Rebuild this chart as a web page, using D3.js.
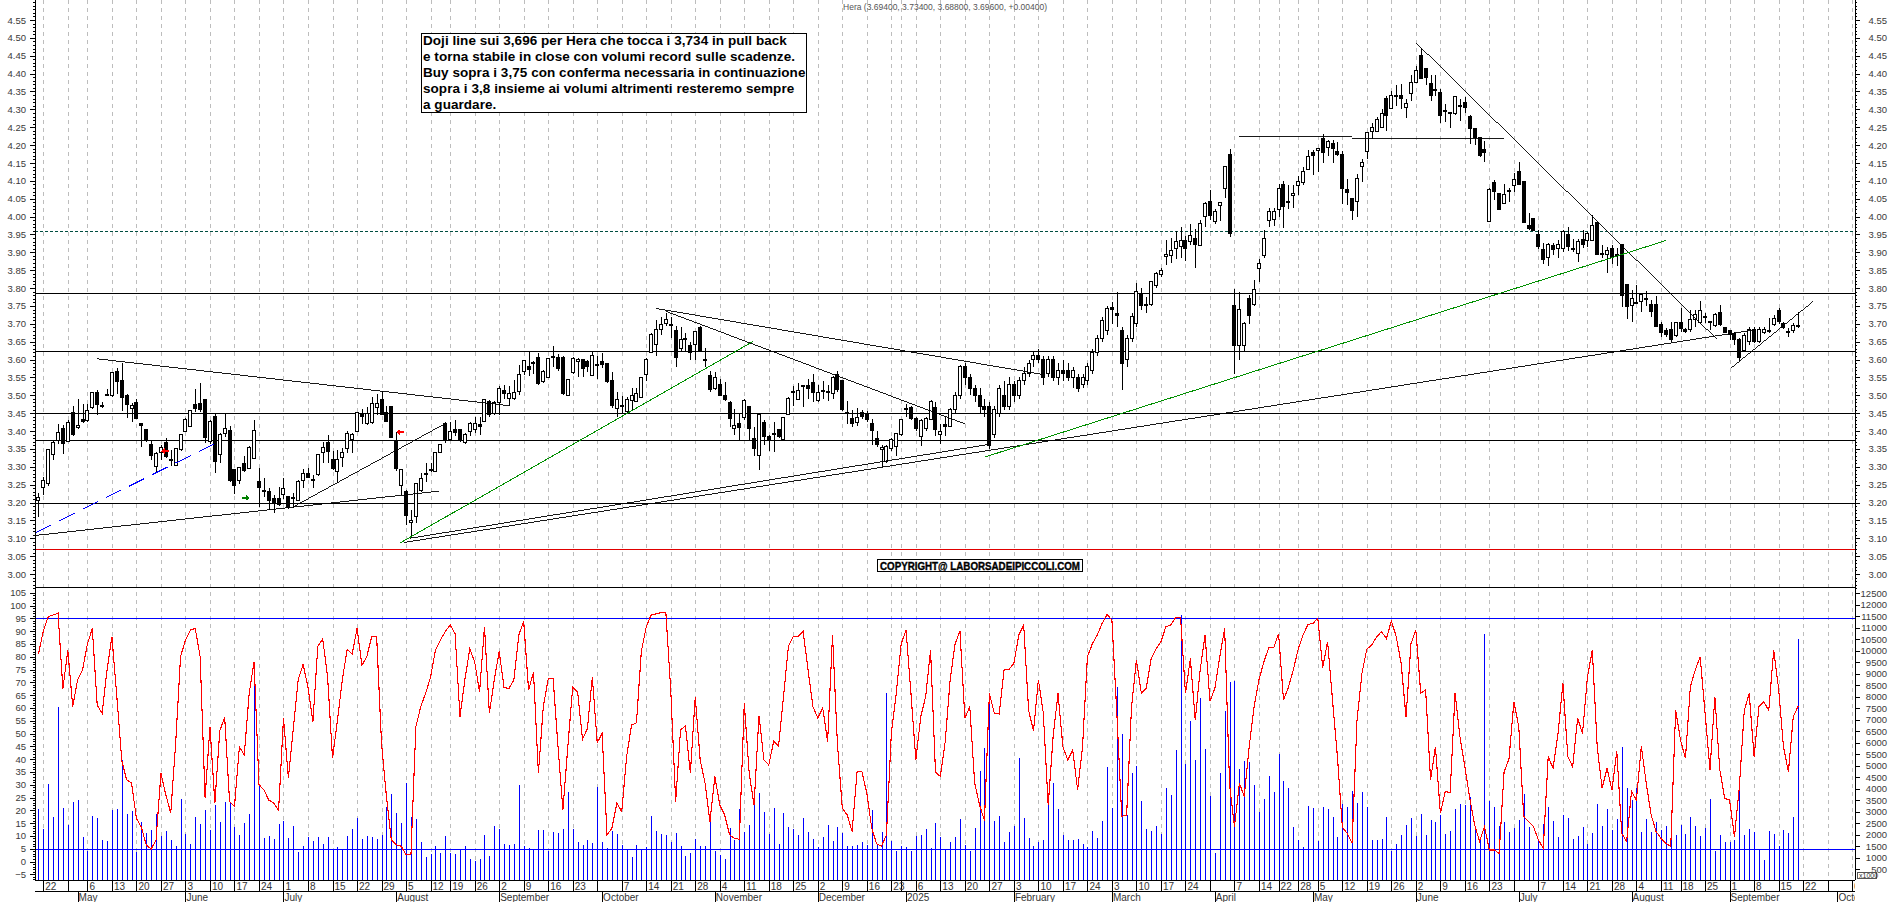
<!DOCTYPE html>
<html>
<head>
<meta charset="utf-8">
<script src="https://cdn.jsdelivr.net/npm/d3@7"></script>
<style>
	html, body { margin: 0; padding: 0; background: #fff; overflow: hidden; }
	svg { display: block; shape-rendering: crispEdges; font-family: "Liberation Sans", Arial, sans-serif; }
	.tick-label text, .tick text { font-size: 9.5px; fill: #3a3a3a; }
</style>
</head>
<body>
<div id="chart"></div>
<script>

var holidays = ["2024-05-01", "2024-08-15", "2024-12-24", "2024-12-25", "2024-12-26", "2024-12-31", "2025-01-01", "2025-04-18", "2025-04-21", "2025-05-01", "2025-08-15"];

var opens = [
	3.205,3.242,3.252,3.334,3.373,3.408,3.37,3.451,3.409,3.431,
	3.429,3.465,3.508,3.472,3.503,3.499,3.567,3.54,3.50,3.463,
	3.48,3.422,3.403,3.361,3.30,3.34,3.369,3.318,3.303,3.347,
	3.40,3.414,3.475,3.476,3.487,3.37,3.441,3.335,3.393,3.402,
	3.291,3.261,3.31,3.296,3.324,3.258,3.235,3.23,3.21,3.212,
	3.222,3.217,3.214,3.207,3.261,3.28,3.263,3.277,3.34,3.368,
	3.321,3.286,3.326,3.351,3.377,3.398,3.446,3.42,3.423,3.465,
	3.489,3.452,3.469,3.373,3.248,3.23,3.145,3.16,3.235,3.277,
	3.293,3.286,3.34,3.421,3.375,3.405,3.405,3.367,3.398,3.403,
	3.417,3.426,3.482,3.45,3.48,3.513,3.49,3.49,3.51,3.566,
	3.58,3.592,3.606,3.538,3.55,3.609,3.606,3.606,3.50,3.563,
	3.595,3.599,3.594,3.555,3.585,3.595,3.588,3.54,3.464,3.47,
	3.454,3.485,3.482,3.494,3.559,3.619,3.643,3.683,3.70,3.697,
	3.68,3.63,3.66,3.64,3.643,3.691,3.60,3.555,3.52,3.53,
	3.50,3.481,3.406,3.422,3.438,3.47,3.38,3.331,3.424,3.384,
	3.394,3.403,3.377,3.447,3.51,3.489,3.528,3.528,3.536,3.485,
	3.514,3.508,3.505,3.558,3.54,3.453,3.434,3.423,3.452,3.447,
	3.422,3.38,3.349,3.314,3.352,3.358,3.389,3.463,3.466,3.435,
	3.384,3.408,3.433,3.466,3.389,3.417,3.414,3.46,3.50,3.58,
	3.55,3.52,3.50,3.47,3.47,3.39,3.45,3.50,3.47,3.53,
	3.50,3.54,3.56,3.60,3.61,3.60,3.56,3.60,3.55,3.57,
	3.57,3.55,3.55,3.53,3.54,3.57,3.62,3.66,3.68,3.747,
	3.728,3.68,3.60,3.66,3.70,3.786,3.751,3.755,3.806,3.837,
	3.888,3.89,3.91,3.916,3.932,3.93,3.938,3.92,4.00,4.042,
	3.986,4.032,4.078,4.174,3.75,3.64,3.64,3.77,3.755,3.854,
	3.89,3.988,3.993,4.02,4.09,4.042,4.06,4.087,4.096,4.131,
	4.18,4.185,4.219,4.193,4.205,4.183,4.174,4.077,4.051,4.042,
	4.14,4.182,4.239,4.238,4.249,4.331,4.303,4.339,4.338,4.305,
	4.345,4.375,4.45,4.413,4.373,4.352,4.348,4.297,4.292,4.289,
	4.31,4.32,4.281,4.247,4.222,4.189,3.986,4.096,4.065,4.037,
	4.072,4.087,4.127,4.098,3.976,3.995,3.95,3.908,3.886,3.92,
	3.91,3.91,3.949,3.912,3.897,3.936,3.933,3.934,3.983,3.898,
	3.893,3.911,3.894,3.922,3.81,3.75,3.76,3.762,3.772,3.753,
	3.753,3.699,3.68,3.685,3.666,3.704,3.685,3.683,3.711,3.703,
	3.721,3.707,3.695,3.732,3.69,3.68,3.673,3.655,3.625,3.65,
	3.683,3.65,3.676,3.68,3.699,3.736,3.701,3.679,3.681,3.694
];

var closes = [
	3.215,3.262,3.347,3.367,3.396,3.366,3.424,3.39,3.416,3.426,
	3.458,3.508,3.473,3.468,3.499,3.564,3.538,3.493,3.474,3.471,
	3.435,3.415,3.373,3.331,3.336,3.355,3.328,3.321,3.35,3.39,
	3.433,3.458,3.464,3.459,3.381,3.427,3.314,3.39,3.408,3.261,
	3.247,3.298,3.289,3.354,3.401,3.242,3.232,3.207,3.2,3.194,
	3.238,3.185,3.213,3.258,3.282,3.27,3.262,3.334,3.354,3.342,
	3.294,3.319,3.34,3.393,3.391,3.451,3.442,3.45,3.477,3.477,
	3.446,3.426,3.381,3.296,3.293,3.163,3.15,3.252,3.268,3.281,
	3.289,3.34,3.361,3.373,3.40,3.395,3.373,3.391,3.421,3.42,
	3.414,3.487,3.447,3.48,3.52,3.506,3.505,3.508,3.559,3.597,
	3.572,3.59,3.533,3.566,3.603,3.606,3.574,3.505,3.543,3.603,
	3.60,3.575,3.58,3.612,3.584,3.585,3.538,3.471,3.487,3.472,
	3.489,3.50,3.504,3.55,3.60,3.671,3.685,3.697,3.713,3.694,
	3.605,3.655,3.657,3.62,3.679,3.624,3.597,3.517,3.55,3.50,
	3.487,3.435,3.416,3.41,3.485,3.407,3.35,3.445,3.384,3.374,
	3.393,3.386,3.438,3.491,3.512,3.513,3.526,3.518,3.509,3.508,
	3.512,3.51,3.55,3.515,3.459,3.451,3.42,3.438,3.44,3.431,
	3.401,3.361,3.354,3.358,3.375,3.394,3.433,3.462,3.435,3.408,
	3.429,3.435,3.482,3.405,3.398,3.412,3.46,3.50,3.58,3.55,
	3.52,3.50,3.47,3.46,3.36,3.46,3.52,3.47,3.53,3.50,
	3.54,3.56,3.59,3.61,3.60,3.55,3.60,3.55,3.57,3.56,
	3.55,3.57,3.52,3.55,3.58,3.62,3.66,3.71,3.744,3.74,
	3.722,3.59,3.66,3.72,3.79,3.751,3.754,3.817,3.84,3.85,
	3.895,3.904,3.929,3.932,3.91,3.948,3.922,3.98,4.037,4.003,
	4.014,4.039,4.14,3.953,3.64,3.739,3.70,3.723,3.797,3.87,
	3.94,4.014,4.014,4.078,4.028,4.04,4.065,4.098,4.126,4.168,
	4.17,4.19,4.179,4.21,4.19,4.173,4.078,4.067,4.016,4.107,
	4.151,4.235,4.25,4.272,4.289,4.284,4.338,4.337,4.33,4.317,
	4.376,4.408,4.385,4.389,4.34,4.356,4.282,4.295,4.29,4.336,
	4.31,4.305,4.246,4.222,4.172,4.179,4.075,4.07,4.021,4.062,
	4.07,4.104,4.091,3.983,3.967,3.961,3.916,3.879,3.922,3.909,
	3.922,3.958,3.916,3.911,3.93,3.923,3.953,3.976,3.893,3.897,
	3.904,3.886,3.893,3.778,3.748,3.771,3.759,3.781,3.771,3.735,
	3.692,3.675,3.669,3.657,3.703,3.686,3.678,3.713,3.725,3.737,
	3.72,3.706,3.727,3.697,3.675,3.671,3.655,3.605,3.668,3.683,
	3.65,3.683,3.683,3.678,3.716,3.706,3.689,3.678,3.694,3.696
];

var highs = [
	3.226,3.272,3.349,3.371,3.42,3.417,3.43,3.47,3.49,3.477,
	3.477,3.51,3.515,3.48,3.518,3.566,3.575,3.589,3.505,3.478,
	3.489,3.422,3.405,3.375,3.34,3.361,3.38,3.347,3.353,3.392,
	3.436,3.46,3.517,3.534,3.49,3.43,3.451,3.394,3.451,3.414,
	3.295,3.30,3.33,3.358,3.431,3.296,3.268,3.24,3.22,3.244,
	3.268,3.218,3.226,3.263,3.293,3.296,3.277,3.337,3.37,3.388,
	3.345,3.347,3.352,3.401,3.395,3.453,3.463,3.468,3.495,3.505,
	3.513,3.47,3.47,3.398,3.295,3.235,3.179,3.255,3.283,3.311,
	3.31,3.342,3.364,3.425,3.426,3.43,3.405,3.395,3.425,3.44,
	3.44,3.49,3.487,3.485,3.525,3.53,3.525,3.542,3.585,3.60,
	3.62,3.595,3.617,3.57,3.605,3.637,3.615,3.61,3.545,3.606,
	3.603,3.602,3.60,3.622,3.61,3.617,3.59,3.565,3.51,3.497,
	3.495,3.52,3.521,3.552,3.603,3.673,3.71,3.72,3.731,3.72,
	3.695,3.69,3.675,3.65,3.68,3.695,3.631,3.568,3.565,3.545,
	3.536,3.483,3.463,3.45,3.49,3.47,3.41,3.45,3.43,3.39,
	3.426,3.405,3.44,3.495,3.525,3.535,3.529,3.545,3.56,3.53,
	3.54,3.53,3.553,3.568,3.54,3.485,3.46,3.465,3.46,3.455,
	3.435,3.40,3.36,3.36,3.38,3.395,3.435,3.475,3.47,3.44,
	3.435,3.44,3.486,3.48,3.42,3.44,3.465,3.51,3.585,3.59,
	3.56,3.53,3.52,3.49,3.48,3.47,3.53,3.54,3.55,3.54,
	3.55,3.58,3.60,3.62,3.63,3.61,3.61,3.61,3.59,3.60,
	3.59,3.58,3.56,3.56,3.59,3.63,3.67,3.72,3.75,3.76,
	3.79,3.69,3.67,3.73,3.815,3.80,3.775,3.82,3.845,3.855,
	3.934,3.94,3.96,3.97,3.945,3.98,3.964,3.99,4.04,4.074,
	4.02,4.039,4.142,4.19,3.797,3.79,3.705,3.78,3.822,3.88,
	3.962,4.025,4.025,4.09,4.10,4.088,4.088,4.113,4.14,4.186,
	4.185,4.19,4.23,4.215,4.213,4.21,4.183,4.105,4.051,4.12,
	4.16,4.235,4.262,4.28,4.30,4.338,4.351,4.367,4.37,4.33,
	4.396,4.422,4.471,4.417,4.396,4.396,4.357,4.316,4.292,4.338,
	4.33,4.334,4.284,4.247,4.222,4.211,4.08,4.102,4.067,4.09,
	4.081,4.123,4.152,4.098,4.01,3.995,3.963,3.925,3.925,3.927,
	3.935,3.963,3.97,3.936,3.936,3.963,3.958,4.004,3.986,3.92,
	3.916,3.92,3.911,3.922,3.81,3.794,3.809,3.785,3.792,3.767,
	3.778,3.706,3.687,3.706,3.706,3.743,3.688,3.739,3.739,3.764,
	3.73,3.707,3.731,3.753,3.69,3.683,3.678,3.66,3.675,3.69,
	3.69,3.69,3.69,3.715,3.725,3.745,3.704,3.687,3.703,3.734
];

var lows = [
	3.16,3.221,3.246,3.32,3.364,3.336,3.368,3.386,3.405,3.423,
	3.424,3.463,3.445,3.465,3.497,3.496,3.504,3.457,3.436,3.426,
	3.433,3.356,3.368,3.319,3.284,3.319,3.324,3.302,3.302,3.345,
	3.398,3.41,3.454,3.454,3.366,3.365,3.283,3.31,3.384,3.258,
	3.224,3.251,3.285,3.294,3.322,3.188,3.216,3.179,3.17,3.19,
	3.209,3.181,3.184,3.204,3.24,3.268,3.242,3.275,3.31,3.31,
	3.29,3.254,3.30,3.338,3.338,3.396,3.42,3.417,3.42,3.445,
	3.444,3.424,3.38,3.287,3.22,3.137,3.10,3.143,3.23,3.258,
	3.286,3.284,3.338,3.366,3.372,3.385,3.37,3.365,3.385,3.395,
	3.39,3.424,3.44,3.445,3.445,3.49,3.47,3.488,3.50,3.557,
	3.555,3.56,3.53,3.535,3.548,3.58,3.568,3.50,3.498,3.56,
	3.55,3.55,3.565,3.553,3.545,3.575,3.535,3.465,3.44,3.45,
	3.45,3.46,3.48,3.492,3.54,3.617,3.61,3.67,3.695,3.66,
	3.58,3.625,3.62,3.60,3.60,3.62,3.58,3.51,3.515,3.498,
	3.483,3.41,3.39,3.375,3.43,3.375,3.33,3.29,3.36,3.345,
	3.34,3.38,3.375,3.445,3.47,3.487,3.466,3.49,3.482,3.48,
	3.49,3.485,3.49,3.51,3.457,3.42,3.41,3.415,3.435,3.425,
	3.36,3.355,3.30,3.31,3.345,3.33,3.385,3.44,3.43,3.40,
	3.359,3.40,3.43,3.385,3.365,3.385,3.41,3.45,3.49,3.53,
	3.50,3.48,3.45,3.44,3.35,3.38,3.44,3.46,3.46,3.48,
	3.49,3.53,3.55,3.58,3.59,3.53,3.55,3.54,3.53,3.54,
	3.54,3.52,3.51,3.52,3.53,3.56,3.61,3.65,3.67,3.70,
	3.69,3.515,3.58,3.65,3.69,3.74,3.73,3.75,3.80,3.83,
	3.864,3.87,3.88,3.885,3.875,3.92,3.857,3.917,3.972,3.99,
	3.978,3.988,4.053,3.943,3.56,3.60,3.62,3.70,3.75,3.818,
	3.885,3.97,3.975,3.998,3.968,4.02,4.025,4.06,4.088,4.13,
	4.116,4.126,4.15,4.17,4.15,4.17,4.035,4.032,3.99,4.00,
	4.098,4.16,4.218,4.236,4.248,4.24,4.30,4.31,4.30,4.275,
	4.323,4.374,4.384,4.368,4.324,4.336,4.263,4.265,4.249,4.284,
	4.268,4.29,4.203,4.2,4.168,4.153,3.986,4.045,4.02,4.035,
	4.04,4.07,4.088,3.981,3.962,3.961,3.908,3.867,3.863,3.893,
	3.885,3.90,3.905,3.90,3.874,3.911,3.916,3.933,3.893,3.883,
	3.843,3.867,3.862,3.748,3.713,3.706,3.757,3.734,3.749,3.72,
	3.69,3.664,3.664,3.65,3.662,3.678,3.675,3.678,3.692,3.7,
	3.701,3.683,3.692,3.694,3.673,3.654,3.64,3.595,3.62,3.64,
	3.645,3.645,3.672,3.675,3.695,3.70,3.686,3.662,3.675,3.688
];

var volumes = [
	3091,2237,4192,2743,7550,3135,2410,3410,3497,1875,
	1281,2801,2715,1759,1716,3062,3106,5234,2888,3019,
	1238,2541,2049,2193,2888,1933,2150,1759,1498,3540,
	2020,1585,2758,2454,3062,2193,3279,2541,3410,3424,
	2324,1976,2497,2888,8493,4100,1860,1933,1803,2454,
	2584,1846,2367,1252,1498,1889,1716,1889,1585,1889,
	1325,1440,1368,1933,2237,2729,1803,1933,1889,1803,
	1976,3193,3757,2932,2497,4235,2758,2671,1672,1035,
	1151,1498,1194,1933,1209,1151,1368,1498,934,847,
	934,1976,1064,2367,2237,1585,1527,1585,4148,1498,
	1426,1325,2193,2193,1281,2107,2063,2237,3844,2237,
	1672,1527,1759,1629,4061,1672,1426,2150,2005,1542,
	1310,1035,1542,1325,1440,2801,2164,2020,1976,1687,
	2063,1498,1064,1209,1803,1498,1498,2628,1281,1107,
	934,2266,1759,3106,2107,2410,3279,3786,2975,2020,
	3149,1585,2932,2324,2237,1976,2715,2107,1803,1469,
	1889,2410,1716,2324,2063,1498,1498,1542,1672,1542,
	3062,1585,2107,8132,1716,1281,1498,1469,1281,1933,
	1976,2237,1426,2497,1889,1368,1672,1889,2671,1542,
	1281,2280,4756,5741,7767,2584,2801,1672,2107,2367,
	5322,2715,1846,1498,1672,1759,3786,4235,3106,1976,
	1759,1759,1803,1585,1469,2150,1846,2584,4930,3149,
	8420,6364,2845,4670,4974,3453,2237,2150,2367,2020,
	4018,3714,5669,11565,5060,6942,5234,7914,5712,3670,
	1200,4670,7377,8637,8666,4843,5191,5161,4148,2975,
	3526,4539,3830,5495,4322,4003,2309,1759,1440,3236,
	3149,1716,3193,3106,2758,1889,3323,3193,3888,3366,
	3844,3193,1759,1759,1803,2758,1281,1585,1976,2410,
	2715,1933,2888,1976,2628,2541,2845,2020,2150,3106,
	3323,3279,3627,2280,1759,10708,3453,3193,2367,2541,
	2107,2280,2628,3757,2324,1368,1759,2454,3193,2584,
	1889,2845,2715,1803,1933,2324,1585,2063,3323,2367,
	3106,2193,2671,5812,4018,3497,4018,2107,2671,2107,
	2541,2193,2367,2193,1976,2410,2020,2758,2367,1933,
	2266,3540,1281,1976,1672,1672,1759,4148,1976,2237,
	2107,1325,890,2150,2020,1498,2193,2063,2758,10491
];

var oscillator = [
	81,90,95.6,96.3,97,67.5,82.6,60.5,71,74.8,
	85,91,61,57.9,74.8,87.8,64.4,39.6,31.9,30.6,
	16.9,13.4,6.5,4.8,8.4,34.5,26,18.9,46.2,80,
	86.5,90.4,91,80,25,52.6,22.8,51,56.3,23.4,
	21.5,44.8,41.6,65.7,78,30,28,24,22.8,20,
	56,32.5,52,71,77,68,54.6,84,87,72,
	40.3,55,71,83,81,91,76.7,80,88,88,
	46,25.4,8.4,6.5,6,2.6,2.6,52.6,60.5,65.7,
	72,82.6,86.5,89.8,92.4,89,56.6,71,83,78,
	66.3,91.7,57.9,71,82,67.9,67.6,71,88.5,93.7,
	67,74,34.5,60.5,71.3,71.5,44.8,20.2,44.8,68,
	66.3,47.7,52,72,46.4,50,10.4,13,22.8,19.5,
	41,53.3,54.2,82,91.7,96.3,96.7,97.2,97.3,67,
	23.4,51.4,53,34.5,64.4,39.7,30.6,15.6,33.2,22,
	18.2,10.4,9,8.7,61.8,34.5,22,57,39.7,37.7,
	47,45,64.4,84,88,88,90,75,60.5,56,
	60,46.8,88.5,46,20.8,18.2,11.7,35,35,26.7,
	13,6.9,6,10.4,50,65.7,85,90.4,65.7,39.6,
	56.6,64.4,82.6,35,33.2,47,71,85,90,56,
	60.5,30.6,22,16,65.7,58,57.6,74.8,75,77.4,
	88.5,92.4,59,51,71,58,22,48.7,65.7,44.8,
	39.6,43.5,28,44.8,80,85,88.5,93,96.5,94.3,
	58,17.6,18.2,60.5,78.7,65.7,67.6,79.3,83,85.9,
	91.7,92.4,95.2,95.4,65.7,79.3,55.3,74.8,88.5,62.7,
	67.6,80,91,30,13.6,30.6,25.4,44.8,60.5,71,
	78,83.5,83.5,89,63,68,74.8,83,88.5,92.6,
	93,95,75.7,85.9,63,41,13.4,11,7.1,55.3,
	73.5,83,84.5,87.8,89.8,87,94,87.8,77.4,56.3,
	85,90.4,65.7,67,31.9,44.8,18.9,27.3,27,65.7,
	48.7,37,24.7,14.3,7.8,13.6,4.5,4.5,3.2,35,
	40,62.4,52.6,17.6,15.6,13.6,8.4,5.2,41,36.4,
	50,69.6,41,37,56,50,72,82.6,44.8,28.6,
	36.4,28,43,11,7.8,27.3,24,45,30.6,18.2,
	11.7,9.1,7.1,5.8,59,47.4,40.3,68.3,74.8,80,
	58,35.8,64.4,36,24.7,24,9.7,29.3,59,65.7,
	41,60.5,62.4,59,82.6,67.6,44.8,35,56.6,60.7
];

var priceLevels = [3.785, 3.625, 3.45, 3.375, 3.20];
var supportLevel = 3.07;
var resistanceLevel = 3.96;
var oscLevels = [95, 5];

// [index, price, index, price]
var blackTrends = [
	[12, 3.602, 96, 3.471],
	[-0.5, 3.108, 81.8, 3.232],
	[52, 3.188, 83, 3.421],
	[74.5, 3.088, 350, 3.683],
	[75.8, 3.10, 193.6, 3.362],
	[126, 3.743, 205, 3.558],
	[128, 3.735, 189, 3.42],
	[245, 4.225, 268, 4.225],
	[268, 4.219, 299, 4.219],
	[281, 4.487, 342.4, 3.657],
	[345.3, 3.576, 362, 3.762]
];
var greenTrends = [
	[73.7, 3.086, 145.7, 3.65],
	[193, 3.327, 332, 3.933]
];
var blueTrends = [
	[-0.5, 3.116, 37, 3.372]
];

var redArrows = [[25.8, 3.344], [73.8, 3.397]];
var greenArrows = [[42.3, 3.213]];

var priceTicks = d3.range(3, 4.5501, 0.05);
var priceMinor = d3.range(2.96, 4.6101, 0.01);
var oscTicks = d3.range(-5, 105.1, 5);
var oscMinor = d3.range(-7, 106, 1);
var volumeTicks = d3.range(500, 12501, 500);

var titleText = "Hera (3.69400, 3.73400, 3.68800, 3.69600, +0.00400)";
var noteLines = [
	"Doji line sui 3,696 per Hera che tocca i 3,734 in pull back",
	"e torna stabile in close con volumi record sulle scadenze.",
	"Buy sopra i 3,75 con conferma necessaria in continuazione",
	"sopra i 3,8 insieme ai volumi altrimenti resteremo sempre",
	"a guardare."
];
var copyrightText = "COPYRIGHT@ LABORSADEIPICCOLI.COM";
var monthNames = ["2025", "February", "March", "April", "May", "June", "July", "August", "September", "October", "November", "December"];

var width = 1890, height = 902;
var left = 35, right = 1855, axisBottom = 880, axisSecond = 891;

var fmt = d3.utcFormat("%Y-%m-%d");
var dates = d3.utcDay.range(new Date(Date.UTC(2024, 3, 19)), new Date(Date.UTC(2025, 9, 11))).filter(function(d) {
	return d.getUTCDay() !== 0 && d.getUTCDay() !== 6 && holidays.indexOf(fmt(d)) < 0;
});

var x = d3.scaleLinear().domain([0, 359]).range([38.4, 1798.2]);
var yPrice = d3.scaleLinear().domain([3, 4.55]).range([574, 20]);
var yOsc = d3.scaleLinear().domain([0, 95]).range([861.5, 618.3]);
var yVolume = d3.scaleLinear().domain([0, 12500]).range([880.5, 593]);

function snap(v) { return Math.round(v) + 0.5; }

var weekTicks = [], monthTicks = [];
dates.forEach(function(d, i) {
	if (i === 0) return;
	var prev = dates[i - 1];
	if (+d3.utcMonday.floor(d) !== +d3.utcMonday.floor(prev)) weekTicks.push(i);
	if (d.getUTCMonth() !== prev.getUTCMonth()) monthTicks.push(i);
});

var svg = d3.select("#chart").append("svg").attr("width", width).attr("height", height);
svg.append("rect").attr("width", width).attr("height", height).attr("fill", "#fff");

svg.append("clipPath").attr("id", "plot-clip").append("rect")
	.attr("x", left).attr("y", 0).attr("width", right - left).attr("height", height);

var plot = svg.append("g").attr("clip-path", "url(#plot-clip)");

plot.selectAll(".grid").data(weekTicks).enter().append("line")
	.attr("x1", function(i) { return snap(x(i)); })
	.attr("x2", function(i) { return snap(x(i)); })
	.attr("y1", 0).attr("y2", axisBottom)
	.attr("stroke", "#bdbdbd").attr("stroke-width", 1).attr("stroke-dasharray", "4,4");

// lower panel
plot.selectAll(".vol").data(volumes).enter().append("line")
	.attr("x1", function(d, i) { return snap(x(i)); })
	.attr("x2", function(d, i) { return snap(x(i)); })
	.attr("y1", axisBottom)
	.attr("y2", function(d) { return yVolume(d); })
	.attr("stroke", "#0000ff").attr("stroke-width", 1);

plot.selectAll(".osc-level").data(oscLevels).enter().append("line")
	.attr("x1", left).attr("x2", right)
	.attr("y1", function(d) { return snap(yOsc(d)); })
	.attr("y2", function(d) { return snap(yOsc(d)); })
	.attr("stroke", "#0000ff").attr("stroke-width", 1);

var oscLine = d3.line()
	.x(function(d, i) { return x(i); })
	.y(function(d) { return yOsc(d); });

plot.append("path").datum(oscillator)
	.attr("d", oscLine)
	.attr("fill", "none").attr("stroke", "#ff0000").attr("stroke-width", 1.1);

plot.append("line")
	.attr("x1", left).attr("x2", right).attr("y1", 587.5).attr("y2", 587.5)
	.attr("stroke", "#000").attr("stroke-width", 1);

// price panel
plot.selectAll(".level").data(priceLevels).enter().append("line")
	.attr("x1", left).attr("x2", right)
	.attr("y1", function(d) { return snap(yPrice(d)); })
	.attr("y2", function(d) { return snap(yPrice(d)); })
	.attr("stroke", "#000").attr("stroke-width", 1);

plot.append("line")
	.attr("x1", left).attr("x2", right)
	.attr("y1", snap(yPrice(supportLevel))).attr("y2", snap(yPrice(supportLevel)))
	.attr("stroke", "#e00000").attr("stroke-width", 1);

plot.append("line")
	.attr("x1", left).attr("x2", right)
	.attr("y1", snap(yPrice(resistanceLevel))).attr("y2", snap(yPrice(resistanceLevel)))
	.attr("stroke", "#004d40").attr("stroke-width", 1).attr("stroke-dasharray", "3,2");

var wicks = plot.append("g");
var bodies = plot.append("g");

wicks.selectAll("line").data(opens).enter().append("line")
	.attr("x1", function(d, i) { return snap(x(i)); })
	.attr("x2", function(d, i) { return snap(x(i)); })
	.attr("y1", function(d, i) { return yPrice(highs[i]); })
	.attr("y2", function(d, i) { return yPrice(lows[i]); })
	.attr("stroke", "#000").attr("stroke-width", 1);

bodies.selectAll("rect").data(opens).enter().append("rect")
	.attr("x", function(d, i) { return Math.round(x(i)) - 1.5; })
	.attr("width", 3)
	.attr("y", function(d, i) { return yPrice(Math.max(d, closes[i])); })
	.attr("height", function(d, i) { return Math.max(1, Math.abs(yPrice(d) - yPrice(closes[i]))); })
	.attr("fill", function(d, i) { return closes[i] >= d ? "#fff" : "#000"; })
	.attr("stroke", "#000").attr("stroke-width", 1);

function drawTrends(rows, colour, width, dash) {
	plot.append("g").selectAll("line").data(rows).enter().append("line")
		.attr("x1", function(d) { return x(d[0]); })
		.attr("y1", function(d) { return yPrice(d[1]); })
		.attr("x2", function(d) { return x(d[2]); })
		.attr("y2", function(d) { return yPrice(d[3]); })
		.attr("stroke", colour).attr("stroke-width", width)
		.attr("stroke-dasharray", dash);
}

drawTrends(blackTrends, "#000", 0.9, null);
drawTrends(greenTrends, "#009000", 1, null);
drawTrends(blueTrends, "#0000ff", 1, "17,9");

function drawArrows(rows, colour, dir) {
	plot.append("g").selectAll("path").data(rows).enter().append("path")
		.attr("transform", function(d) { return "translate(" + x(d[0]) + "," + yPrice(d[1]) + ") scale(" + dir + ",1)"; })
		.attr("d", "M-4,-1 L0,-1 L0,-3 L4,0 L0,3 L0,1 L-4,1 Z")
		.attr("fill", colour);
}

drawArrows(redArrows, "#ff0000", -1);
drawArrows(greenArrows, "#008000", 1);

// axes
function drawAxis(generator, scale, xPos, ticks, size, labels) {
	var g = svg.append("g").attr("transform", "translate(" + xPos + ",0)")
		.call(generator(scale).tickValues(ticks).tickSize(size).tickPadding(labels ? 4 : 0).tickFormat(labels || ""));
	g.select(".domain").remove();
	g.selectAll("line").attr("stroke", "#000");
	return g;
}

var priceFmt = d3.format(".2f"), intFmt = d3.format("d");

[[d3.axisLeft, left], [d3.axisRight, right]].forEach(function(side) {
	drawAxis(side[0], yPrice, side[1], priceMinor, 2);
	drawAxis(side[0], yPrice, side[1], priceTicks, 5, function(d) { return priceFmt(d); });
});

drawAxis(d3.axisLeft, yOsc, left, oscMinor, 2);
drawAxis(d3.axisLeft, yOsc, left, oscTicks, 5, function(d) { return intFmt(d); });
drawAxis(d3.axisRight, yVolume, right, volumeTicks, 5, function(d) { return intFmt(d); });

svg.selectAll("g.tick text")
	.filter(function() { return this.getAttribute("x") > 0; })
	.attr("x", 32)
	.attr("text-anchor", "end");

svg.append("line").attr("x1", left + 0.5).attr("x2", left + 0.5).attr("y1", 0).attr("y2", axisBottom).attr("stroke", "#000").attr("stroke-width", 1);
svg.append("line").attr("x1", right + 0.5).attr("x2", right + 0.5).attr("y1", 0).attr("y2", axisBottom).attr("stroke", "#000").attr("stroke-width", 1);

[axisBottom, axisSecond].forEach(function(yy) {
	svg.append("line").attr("x1", left).attr("x2", right).attr("y1", yy + 0.5).attr("y2", yy + 0.5).attr("stroke", "#000");
});

var timeAxis = svg.append("g").attr("clip-path", "url(#plot-clip)");

timeAxis.selectAll(".week-tick").data(weekTicks).enter().append("line")
	.attr("x1", function(i) { return snap(x(i)); })
	.attr("x2", function(i) { return snap(x(i)); })
	.attr("y1", axisBottom).attr("y2", axisSecond)
	.attr("stroke", "#000");

timeAxis.selectAll(".week-label").data(weekTicks.filter(function(i) {
	return !monthTicks.some(function(m) { return m > i && m - i <= 2 && x(m) - x(i) < 12; });
})).enter().append("text")
	.attr("x", function(i) { return x(i) + 2; })
	.attr("y", 890)
	.attr("font-size", 10).attr("fill", "#333")
	.text(function(i) { return dates[i].getUTCDate(); });

timeAxis.selectAll(".month-tick").data(monthTicks).enter().append("line")
	.attr("x1", function(i) { return snap(x(i)); })
	.attr("x2", function(i) { return snap(x(i)); })
	.attr("y1", axisSecond).attr("y2", height)
	.attr("stroke", "#000");

timeAxis.selectAll(".month-label").data(monthTicks).enter().append("text")
	.attr("x", function(i) { return x(i) + 1; })
	.attr("y", 901)
	.attr("font-size", 10).attr("fill", "#333")
	.text(function(i) { return monthNames[dates[i].getUTCMonth()]; });

svg.append("rect").attr("x", 1857.5).attr("y", 872.5).attr("width", 19).attr("height", 6)
	.attr("fill", "#fff").attr("stroke", "#555");
svg.append("text").attr("x", 1859).attr("y", 878).attr("font-size", 7).attr("fill", "#333").text("x1000");

// texts
svg.append("text")
	.attr("x", 945).attr("y", 10).attr("text-anchor", "middle")
	.attr("font-size", 8.5).attr("fill", "#555").text(titleText);

svg.append("rect").attr("x", 421.5).attr("y", 33.5).attr("width", 385).attr("height", 79)
	.attr("fill", "#fff").attr("stroke", "#000").attr("stroke-width", 1.5);

svg.selectAll(".note").data(noteLines).enter().append("text")
	.attr("x", 423)
	.attr("y", function(d, i) { return 45 + i * 16; })
	.attr("font-size", 13.5).attr("font-weight", "bold").attr("fill", "#000")
	.attr("letter-spacing", 0.05)
	.text(function(d) { return d; });

svg.append("rect").attr("x", 877.5).attr("y", 559.5).attr("width", 205).attr("height", 12)
	.attr("fill", "#fff").attr("stroke", "#000").attr("stroke-width", 1.2);

svg.append("text")
	.attr("x", 880).attr("y", 569.5)
	.attr("font-size", 10.5).attr("font-weight", "bold").attr("fill", "#000")
	.attr("stroke", "#000").attr("stroke-width", 0.35)
	.attr("textLength", 200).attr("lengthAdjust", "spacingAndGlyphs")
	.text(copyrightText);

</script>
</body>
</html>
